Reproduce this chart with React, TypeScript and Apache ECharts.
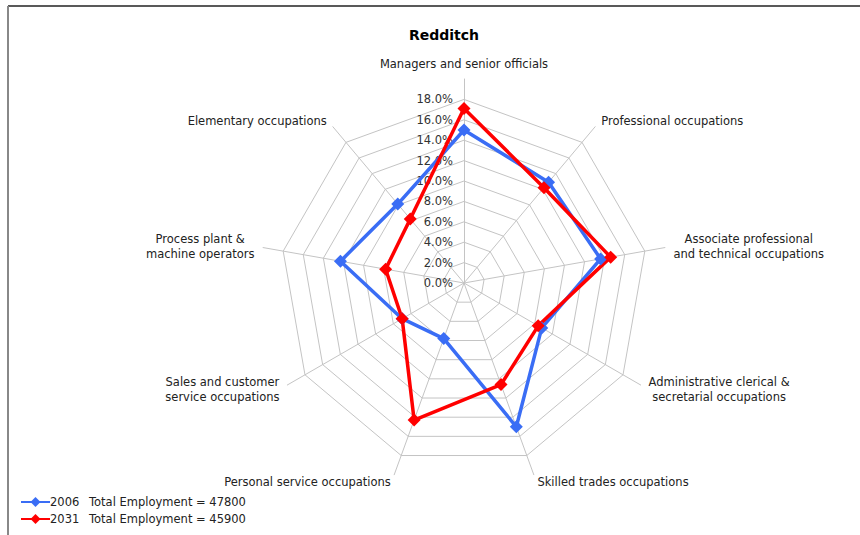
import React, { useEffect, useRef } from 'react';
import * as echarts from 'echarts';

const categories = [
  'Managers and senior officials',
  'Professional occupations',
  'Associate professional\nand technical occupations',
  'Administrative clerical &\nsecretarial occupations',
  'Skilled trades occupations',
  'Personal service occupations',
  'Sales and customer\nservice occupations',
  'Process plant &\nmachine operators',
  'Elementary occupations',
];
const years = ['2006', '2031'];
const totalEmployment = [47800, 45900];
const values2006 = [15.0, 12.9, 13.6, 8.8, 15.0, 5.8, 7.0, 12.3, 10.1];
const values2031 = [17.1, 12.2, 14.6, 8.4, 10.6, 14.3, 7.0, 7.8, 8.2];
const axisMin = 0;
const axisMax = 20;
const axisSplits = 10;

const FONT = "'DejaVu Sans', sans-serif";
const NAME_SIZE = 11.5;

function measure(text: string, size: number): number {
  const c = document.createElement('canvas').getContext('2d');
  if (!c) return text.length * size * 0.6;
  c.font = `${size}px 'DejaVu Sans'`;
  return c.measureText(text).width;
}

export default function App() {
  const ref = useRef<HTMLDivElement>(null);
  useEffect(() => {
    if (!ref.current) return;
    const chart = echarts.init(ref.current, null, { renderer: 'svg' });
    // ECharts places indicators counter-clockwise; reorder so the picture runs clockwise
    const order = [0, ...categories.map((_, i) => i).slice(1).reverse()];
    const rich: any = {};
    categories.forEach((c, i) => {
      const w = Math.max(...c.split('\n').map((l) => measure(l, NAME_SIZE))) + 1;
      rich['n' + i] = { width: Math.ceil(w), align: 'center', fontSize: NAME_SIZE, color: '#222', fontFamily: FONT, lineHeight: 15 };
    });
    const indicator = order.map((i, k) => {
      const base: any = { name: categories[i], min: axisMin, max: axisMax };
      if (k === 0) {
        base.axisLabel = {
          show: true,
          color: '#333',
          fontSize: 11.5,
          fontFamily: FONT,
          margin: 11,
          formatter: (v: number) => (v >= axisMax ? '' : v.toFixed(1) + '%'),
        };
      }
      return base;
    });
    const ringColors = Array.from({ length: axisSplits + 1 }, (_, i) =>
      i === axisSplits ? 'rgba(0,0,0,0)' : '#c4c4c4'
    );
    const colors = ['#3a6df5', '#ff0000'];
    const seriesValues = [values2006, values2031];
    chart.setOption({
      animation: false,
      textStyle: { fontFamily: FONT },
      title: {
        text: 'Redditch',
        left: 439,
        textAlign: 'center',
        top: 23,
        textStyle: { fontSize: 14, fontWeight: 'bold', color: '#000', fontFamily: FONT },
      },
      legend: {
        orient: 'vertical',
        left: 16,
        top: 491,
        itemWidth: 29,
        itemHeight: 10,
        itemGap: 5,
        icon: 'path://M0,4 L10.5,4 L14.5,0 L18.5,4 L29,4 L29,6 L18.5,6 L14.5,10 L10.5,6 L0,6 Z',
        data: years,
        formatter: (name: string) =>
          `{y|${name}}{t|Total Employment = ${totalEmployment[years.indexOf(name)]}}`,
        textStyle: {
          padding: [0, 0, 0, -5],
          rich: {
            y: { width: 39, fontSize: 11.5, color: '#222', fontFamily: FONT },
            t: { fontSize: 11.5, color: '#222', fontFamily: FONT },
          },
        },
      },
      radar: {
        center: [464, 283],
        radius: 204,
        startAngle: 90,
        shape: 'polygon',
        splitNumber: axisSplits,
        indicator,
        nameGap: 8,
        axisName: {
          color: '#222',
          fontSize: NAME_SIZE,
          fontFamily: FONT,
          lineHeight: 15,
          rich,
          formatter: (name: string) => {
            const i = categories.indexOf(name);
            return name.split('\n').map((l) => `{n${i}|${l}}`).join('\n');
          },
        },
        axisLine: { lineStyle: { color: '#c4c4c4', width: 1 } },
        splitLine: { lineStyle: { color: ringColors, width: 1 } },
        splitArea: { show: false },
        axisTick: { show: false },
        axisLabel: { show: false },
      },
      series: [
        {
          type: 'radar',
          symbol: 'diamond',
          symbolSize: 13,
          data: years.map((y, s) => ({
            name: y,
            value: order.map((i) => seriesValues[s][i]),
            lineStyle: { color: colors[s], width: 3.5 },
            itemStyle: { color: colors[s] },
          })),
        },
      ],
      color: colors,
      graphic: [
        { type: 'line', shape: { x1: 8, y1: 6, x2: 860, y2: 6 }, style: { stroke: '#222', lineWidth: 1.5 } },
        { type: 'line', shape: { x1: 8, y1: 6, x2: 8, y2: 535 }, style: { stroke: '#888', lineWidth: 2 } },
      ],
    });
    return () => chart.dispose();
  }, []);
  return <div ref={ref} style={{ position: 'absolute', left: 0, top: 0, width: 860, height: 535 }} />;
}
